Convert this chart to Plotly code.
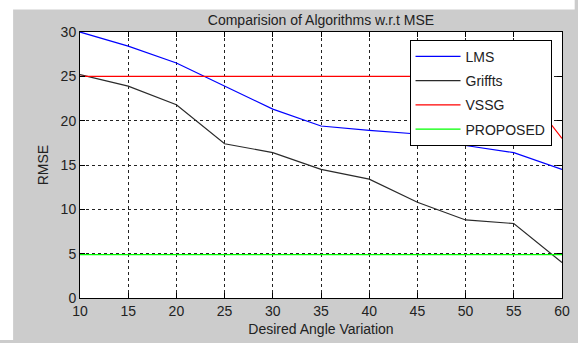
import plotly.graph_objects as go

angles = [10, 15, 20, 25, 30, 35, 40, 45, 50, 55, 60]
lms = [30.0, 28.4, 26.5, 23.9, 21.3, 19.4, 18.9, 18.5, 17.2, 16.4, 14.5]
griffts = [25.2, 23.9, 21.8, 17.4, 16.4, 14.5, 13.4, 10.8, 8.8, 8.4, 4.0]
vssg = [25, 25, 25, 25, 25, 25, 25, 25, 25, 25, 18]
proposed = [4.9, 4.9, 4.9, 4.9, 4.9, 4.9, 4.9, 4.9, 4.9, 4.9, 4.9]

x_ticks = [10, 15, 20, 25, 30, 35, 40, 45, 50, 55, 60]
y_ticks = [0, 5, 10, 15, 20, 25, 30]

series = [
    ("LMS", lms, "#0000ff"),
    ("Griffts", griffts, "#2a2a2a"),
    ("VSSG", vssg, "#ff0000"),
    ("PROPOSED", proposed, "#00ff00"),
]

FONT = "Liberation Sans, Arial, sans-serif"

fig = go.Figure()
for i, (name, vals, col) in enumerate(series):
    fig.add_trace(go.Scatter(
        x=angles, y=vals, mode="lines", name=name,
        line=dict(color=col, width=1.2),
        legendgroup=f"g{i}",
    ))

axis_common = dict(
    showline=True, linecolor="black", linewidth=1, mirror="allticks",
    ticks="inside", ticklen=5, tickcolor="black",
    showgrid=True, gridcolor="#222222", gridwidth=1, griddash="3px,3px",
    zeroline=False,
    tickfont=dict(family=FONT, size=14, color="#222222"),
)

fig.update_xaxes(
    range=[10, 60], tickvals=x_ticks, ticktext=[str(v) for v in x_ticks],
    title=dict(text="Desired Angle Variation", font=dict(family=FONT, size=14, color="#222222"), standoff=6),
    **axis_common,
)
fig.update_yaxes(
    range=[0, 30], tickvals=y_ticks, ticktext=[str(v) for v in y_ticks],
    title=dict(text="RMSE", font=dict(family=FONT, size=14, color="#222222"), standoff=8),
    **axis_common,
)

W, H = 578, 343
ml, mr, mt, mb = 80, 8, 32, 40
pw, ph = W - ml - mr, H - mt - mb

fig.update_layout(
    width=W, height=H,
    margin=dict(l=ml, r=mr, t=mt, b=mb, pad=0),
    paper_bgcolor="#cccccc",
    plot_bgcolor="white",
    hovermode=False,
    font=dict(family=FONT, size=14, color="#222222"),
    title=dict(
        text="Comparision of Algorithms w.r.t MSE",
        font=dict(family=FONT, size=14, color="#222222"),
        x=0.5, xref="paper", xanchor="center",
        y=1 - 20 / H, yref="container", yanchor="middle",
    ),
    legend=dict(
        x=(415 - ml) / pw, y=(H - mb - 40) / ph,
        xanchor="left", yanchor="top",
        bgcolor="white", bordercolor="black", borderwidth=1,
        font=dict(family=FONT, size=14, color="#222222"),
        itemwidth=45, traceorder="grouped", tracegroupgap=3,
    ),
    showlegend=True,
    shapes=[
        dict(type="rect", xref="paper", yref="paper", layer="below",
             x0=-ml / pw - 0.01, x1=(12 - ml) / pw, y0=-mb / ph - 0.01, y1=(H - mb) / ph + 0.05,
             fillcolor="white", line=dict(width=0)),
        dict(type="rect", xref="paper", yref="paper", layer="below",
             x0=-ml / pw - 0.01, x1=1 + mr / pw + 0.01, y0=(H - mb - 9) / ph, y1=(H - mb) / ph + 0.05,
             fillcolor="white", line=dict(width=0)),
    ],
)

fig.write_html(
    "out.html",
    config={"displayModeBar": False},
    post_script="document.body.style.margin='0';document.documentElement.style.overflow='hidden';",
)
